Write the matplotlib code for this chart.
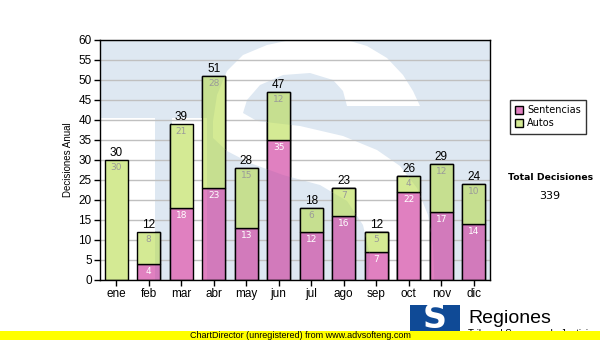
import numpy as np
import matplotlib
matplotlib.use('Agg')
import matplotlib.pyplot as plt
from matplotlib.patches import Rectangle, Polygon
from matplotlib.colors import to_rgb

# Monthly decisions
months = ['ene', 'feb', 'mar', 'abr', 'may', 'jun', 'jul', 'ago', 'sep', 'oct', 'nov', 'dic']
sentencias = [0, 4, 18, 23, 13, 35, 12, 16, 7, 22, 17, 14]
autos = [30, 8, 21, 28, 15, 12, 6, 7, 5, 4, 12, 10]
series_names = ['Sentencias', 'Autos']

pink = '#e080c0'
green = '#d4ea94'
mark_blue = '#dee8f2'


def tint(c1, c2, k=0.5):
    # halfway between the colour and the colour multiplied by the watermark
    a, b = np.array(to_rgb(c1)), np.array(to_rgb(c2))
    return tuple(a * (1 - k) + a * b * k)


pink_dark = tint(pink, mark_blue)
green_dark = tint(green, mark_blue)

W, H = 600, 340
fig = plt.figure(figsize=(W / 100, H / 100), dpi=100)
fig.patch.set_facecolor('white')

# plot area in pixels: x 100..490, y 40..280
ax = fig.add_axes([100 / W, 60 / H, 390 / W, 240 / H])


def px(pts):
    return [((x - 100) / 390, (280 - y) / 240) for x, y in pts]


# logo watermark behind the bars (pixel outline of the T block and the white S)
blue_outline = [(100, 40), (490, 40), (490, 280), (207, 280), (207, 118), (172, 118),
                (172, 280), (155, 280), (155, 118), (100, 118)]
s_outline = [(213, 121), (217, 95), (227, 71), (243, 55), (267, 45), (300, 38), (340, 38),
             (367, 46), (387, 58), (403, 75), (413, 91), (420, 106), (347, 106),
             (343, 91), (333, 80), (310, 73), (283, 75), (260, 85), (247, 100), (243, 113),
             (257, 121), (300, 126), (343, 136), (377, 150), (400, 166), (417, 188),
             (428, 215), (433, 245), (435, 295), (367, 295), (370, 255), (363, 225),
             (347, 201), (320, 185), (283, 175), (250, 163), (227, 151), (213, 138)]

blue_patch = Polygon(px(blue_outline), closed=True, transform=ax.transAxes,
                     fc=mark_blue, ec='none', zorder=0.2)
ax.add_patch(blue_patch)
s_patch = Polygon(px(s_outline), closed=True, transform=ax.transAxes,
                  fc='white', ec='none', zorder=0.3)
ax.add_patch(s_patch)

x = np.arange(len(months))
bw = 0.71
totals = [s + a for s, a in zip(sentencias, autos)]

# base bars, darker copies inside the blue block, plain again inside the S
layers = [(pink, green, 2, None), (pink_dark, green_dark, 2.1, blue_patch), (pink, green, 2.2, s_patch)]
for c_s, c_a, z, clip in layers:
    b1 = ax.bar(x, sentencias, width=bw, color=c_s, edgecolor='black', linewidth=1, zorder=z)
    b2 = ax.bar(x, autos, width=bw, bottom=sentencias, color=c_a, edgecolor='black', linewidth=1, zorder=z)
    if clip is not None:
        for r in list(b1) + list(b2):
            r.set_clip_path(clip)

for xi, s, a, t in zip(x, sentencias, autos, totals):
    ax.annotate(str(t), (xi, t), xytext=(0, 0.5), textcoords='offset points',
                ha='center', va='bottom', fontsize=8.5, family='Liberation Sans', zorder=5)
    if s > 0:
        ax.annotate(str(s), (xi, s), xytext=(0, -2.5), textcoords='offset points',
                    ha='center', va='top', fontsize=6.5, color='white', zorder=5)
    if a > 0:
        ax.annotate(str(a), (xi, t), xytext=(0, -2.5), textcoords='offset points',
                    ha='center', va='top', fontsize=6.5, color='#9a9a9a', zorder=5)

ax.set_xlim(-0.5, len(months) - 0.5)
ax.set_ylim(0, 60)
ax.set_yticks(range(0, 61, 5))
ax.set_xticks(x)
ax.set_xticklabels(months)
ax.set_axisbelow(True)
ax.yaxis.grid(True, color='#c0c0c0', linewidth=1)
ax.set_facecolor('white')
for sp in ax.spines.values():
    sp.set_linewidth(1)
    sp.set_color('black')
    sp.set_zorder(6)
ax.tick_params(axis='both', direction='out', length=4, width=1, color='black',
               labelsize=8.5, pad=2)
for lab in ax.get_xticklabels() + ax.get_yticklabels():
    lab.set_family('Liberation Sans')

ax.set_ylabel('Decisiones Anual', fontsize=7, family='Liberation Sans')
ax.yaxis.set_label_coords((73 - 100) / 390, 0.5)

# legend
handles = [Rectangle((0, 0), 1, 1, fc=pink, ec='black', lw=1),
           Rectangle((0, 0), 1, 1, fc=green, ec='black', lw=1)]
leg = fig.legend(handles, series_names, loc='upper left',
                 bbox_to_anchor=(510 / W, 1 - 100 / H), fontsize=7,
                 frameon=True, fancybox=False, edgecolor='black',
                 handlelength=0.8, handleheight=0.8, handletextpad=0.4,
                 borderpad=0.55, labelspacing=0.3, borderaxespad=0)
leg.get_frame().set_linewidth(1)

fig.text(551 / W, 1 - 177 / H, 'Total Decisiones', ha='center', va='center',
         fontsize=6.7, fontweight='bold')
fig.text(550 / W, 1 - 196 / H, str(sum(totals)), ha='center', va='center', fontsize=8)

# footer logo and banner
fig.patches.append(Rectangle((410 / W, 0), 50 / W, 35 / H, transform=fig.transFigure,
                             fc='#0f4a96', ec='none', zorder=1))
fig.text(435 / W, 1 - 318 / H, 'S', ha='center', va='center', fontsize=24,
         fontweight='bold', color='white', zorder=2)
fig.text(468 / W, 1 - 323 / H, 'Regiones', ha='left', va='baseline', fontsize=14,
         family='Liberation Sans', zorder=2)
fig.text(468 / W, 1 - 337 / H, 'Tribunal Supremo de Justicia', ha='left', va='baseline',
         fontsize=7, family='Liberation Sans', zorder=2)
fig.patches.append(Rectangle((0, 0), 1, 9 / H, transform=fig.transFigure,
                             fc='#ffff00', ec='none', zorder=3))
fig.text(300 / W, 4.5 / H, 'ChartDirector (unregistered) from www.advsofteng.com',
         ha='center', va='center', fontsize=6.5, family='Liberation Sans', zorder=4)

fig.savefig('out.png', dpi=100)
